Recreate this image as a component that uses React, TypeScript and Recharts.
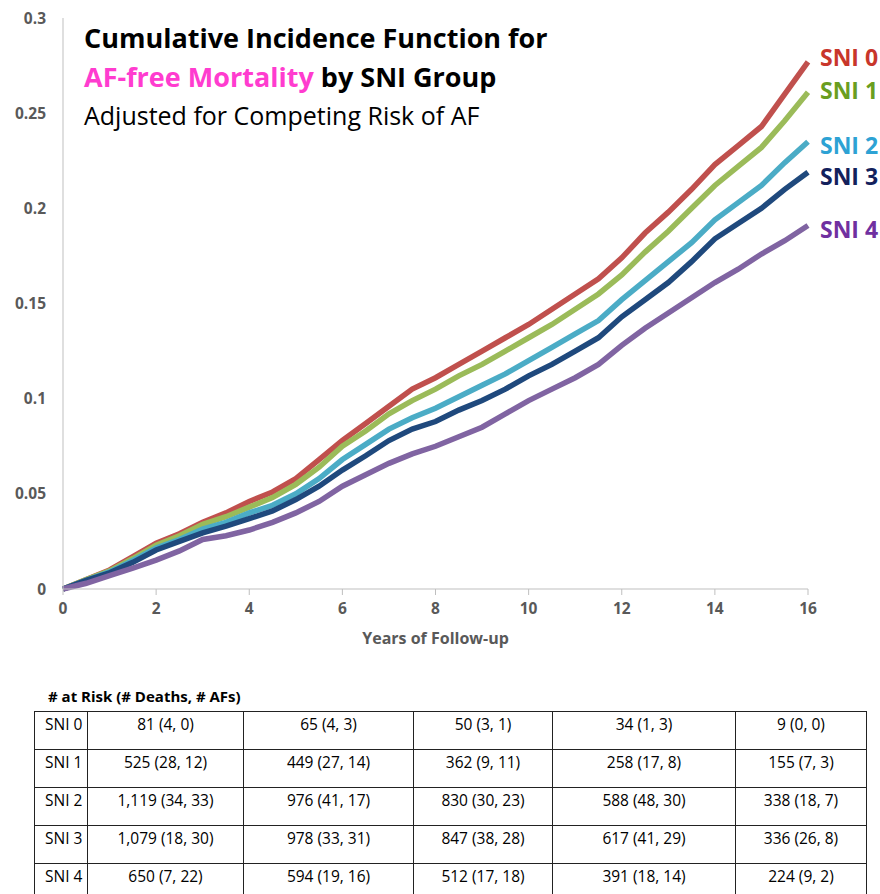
import React from 'react';
import { LineChart, Line, XAxis, YAxis } from 'recharts';

const years = [0, 0.5, 1, 1.5, 2, 2.5, 3, 3.5, 4, 4.5, 5, 5.5, 6, 6.5, 7, 7.5, 8, 8.5, 9, 9.5, 10, 10.5, 11, 11.5, 12, 12.5, 13, 13.5, 14, 14.5, 15, 15.5, 16];
const sni0 = [0, 0.005, 0.010, 0.017, 0.024, 0.029, 0.035, 0.040, 0.046, 0.051, 0.058, 0.068, 0.078, 0.087, 0.096, 0.105, 0.111, 0.118, 0.125, 0.132, 0.139, 0.147, 0.155, 0.163, 0.174, 0.187, 0.198, 0.210, 0.223, 0.233, 0.243, 0.260, 0.277];
const sni1 = [0, 0.005, 0.0095, 0.016, 0.023, 0.028, 0.034, 0.038, 0.043, 0.048, 0.055, 0.064, 0.075, 0.083, 0.092, 0.099, 0.105, 0.112, 0.118, 0.125, 0.132, 0.139, 0.147, 0.155, 0.165, 0.177, 0.188, 0.200, 0.212, 0.222, 0.232, 0.246, 0.261];
const sni2 = [0, 0.0045, 0.009, 0.015, 0.0215, 0.026, 0.0315, 0.035, 0.040, 0.044, 0.050, 0.058, 0.068, 0.076, 0.084, 0.090, 0.095, 0.101, 0.107, 0.113, 0.120, 0.127, 0.134, 0.141, 0.152, 0.162, 0.172, 0.182, 0.194, 0.203, 0.212, 0.224, 0.235];
const sni3 = [0, 0.0045, 0.0085, 0.014, 0.0205, 0.025, 0.0295, 0.033, 0.037, 0.041, 0.047, 0.054, 0.0625, 0.070, 0.078, 0.084, 0.088, 0.094, 0.099, 0.105, 0.112, 0.118, 0.125, 0.132, 0.143, 0.152, 0.161, 0.172, 0.184, 0.192, 0.200, 0.210, 0.219];
const sni4 = [0, 0.003, 0.007, 0.011, 0.0152, 0.020, 0.026, 0.028, 0.031, 0.035, 0.040, 0.046, 0.054, 0.060, 0.066, 0.071, 0.075, 0.080, 0.085, 0.092, 0.099, 0.105, 0.111, 0.118, 0.128, 0.137, 0.145, 0.153, 0.161, 0.168, 0.176, 0.183, 0.191];

const seriesNames = ['SNI 0', 'SNI 1', 'SNI 2', 'SNI 3', 'SNI 4'];
const seriesValues = [sni0, sni1, sni2, sni3, sni4];
const lineColors = ['#C0504D', '#9BBB59', '#4BACC6', '#1F497D', '#8064A2'];
const labelColors = ['#C8362B', '#6A9E1F', '#2DA2D4', '#13215C', '#7030A0'];
const labelTops = [58, 91, 146, 177, 230];

const xTicks = [0, 2, 4, 6, 8, 10, 12, 14, 16];
const yTicks = [0, 0.05, 0.1, 0.15, 0.2, 0.25, 0.3];

const tableTitle = '# at Risk (# Deaths, # AFs)';
const tableRows = [
  ['SNI 0', '81 (4, 0)', '65 (4, 3)', '50 (3, 1)', '34 (1, 3)', '9 (0, 0)'],
  ['SNI 1', '525 (28, 12)', '449 (27, 14)', '362 (9, 11)', '258 (17, 8)', '155 (7, 3)'],
  ['SNI 2', '1,119 (34, 33)', '976 (41, 17)', '830 (30, 23)', '588 (48, 30)', '338 (18, 7)'],
  ['SNI 3', '1,079 (18, 30)', '978 (33, 31)', '847 (38, 28)', '617 (41, 29)', '336 (26, 8)'],
  ['SNI 4', '650 (7, 22)', '594 (19, 16)', '512 (17, 18)', '391 (18, 14)', '224 (9, 2)'],
];
const colWidths = [53, 156, 170, 139, 183, 131];

const data = years.map((t, i) => {
  const row: Record<string, number> = { t };
  seriesNames.forEach((n, k) => {
    row[n] = seriesValues[k][i];
  });
  return row;
});

const FONT = "'Open Sans', 'Noto Sans', 'DejaVu Sans', sans-serif";
const fmtY = (v: number) => (v === 0 ? '0' : String(Number(v.toFixed(2))));

export default function App() {
  return (
    <div style={{ position: 'absolute', left: 0, top: 0, width: 880, height: 894, background: '#fff', fontFamily: FONT, overflow: 'hidden' }}>
      <div style={{ position: 'absolute', left: 0, top: 0 }}>
        <LineChart width={880} height={660} data={data} margin={{ top: 18, right: 72, left: 0, bottom: 21 }}>
          <XAxis
            dataKey="t"
            type="number"
            domain={[0, 16]}
            ticks={xTicks}
            interval={0}
            height={50}
            stroke="#BFBFBF"
            tickSize={6}
            tickMargin={8}
            tick={{ fill: '#595959', fontSize: 15.5, fontWeight: 700, fontFamily: FONT }}
          />
          <YAxis
            type="number"
            domain={[0, 0.3]}
            ticks={yTicks}
            interval={0}
            width={63}
            tickFormatter={fmtY}
            stroke="#BFBFBF"
            tickLine={false}
            tickSize={0}
            tickMargin={17}
            tick={{ fill: '#595959', fontSize: 15.5, fontWeight: 700, fontFamily: FONT }}
          />
          {seriesNames.map((n, k) => (
            <Line
              key={n}
              dataKey={n}
              type="linear"
              stroke={lineColors[k]}
              strokeWidth={5.5}
              dot={false}
              isAnimationActive={false}
            />
          ))}
        </LineChart>
      </div>

      <div style={{ position: 'absolute', left: 63, width: 745, top: 627, textAlign: 'center', fontSize: 16, fontWeight: 700, color: '#595959' }}>
        Years of Follow-up
      </div>

      <div style={{ position: 'absolute', left: 84, top: 18, fontSize: 27, fontWeight: 700, color: '#000', lineHeight: '39px', whiteSpace: 'nowrap' }}>
        <div>Cumulative Incidence Function for</div>
        <div>
          <span style={{ color: '#FF3CCF' }}>AF-free Mortality</span> by SNI Group
        </div>
        <div style={{ fontWeight: 400, fontSize: 25 }}>Adjusted for Competing Risk of AF</div>
      </div>

      {seriesNames.map((n, k) => (
        <div
          key={n}
          style={{ position: 'absolute', left: 820, top: labelTops[k] - 16, fontSize: 23, fontWeight: 700, color: labelColors[k], lineHeight: '30px', whiteSpace: 'nowrap' }}
        >
          {n}
        </div>
      ))}

      <div style={{ position: 'absolute', left: 48, top: 686, fontSize: 15, fontWeight: 700, color: '#000' }}>{tableTitle}</div>

      <table style={{ position: 'absolute', left: 34, top: 711, borderCollapse: 'collapse', tableLayout: 'fixed', width: 832, fontSize: 15.5, color: '#000' }}>
        <colgroup>
          {colWidths.map((w, i) => (
            <col key={i} style={{ width: w }} />
          ))}
        </colgroup>
        <tbody>
          {tableRows.map((r, ri) => (
            <tr key={ri} style={{ height: 38 }}>
              {r.map((c, ci) => (
                <td
                  key={ci}
                  style={{
                    border: '1.5px solid #222',
                    verticalAlign: 'top',
                    padding: ci === 0 ? '1px 0 0 10px' : '1px 0 0 0',
                    textAlign: ci === 0 ? 'left' : 'center',
                    whiteSpace: 'nowrap',
                    height: 38,
                    boxSizing: 'border-box',
                  }}
                >
                  {c}
                </td>
              ))}
            </tr>
          ))}
        </tbody>
      </table>
    </div>
  );
}
